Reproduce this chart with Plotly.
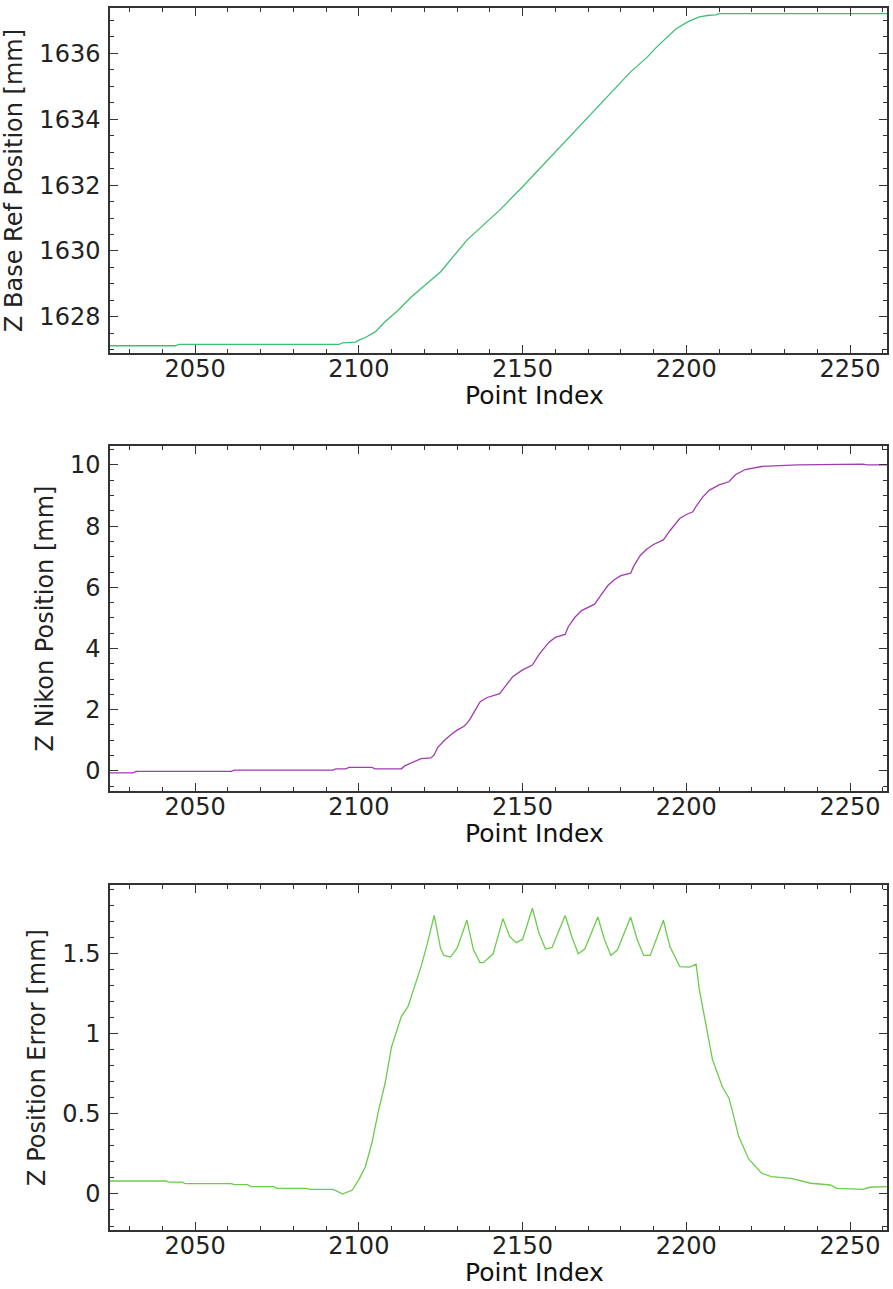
import plotly.graph_objects as go
from plotly.subplots import make_subplots

# Panel 1: Z Base Ref Position
ref_x = [2024, 2044, 2045, 2094, 2095, 2099, 2100, 2102, 2105, 2108, 2112, 2116, 2120,
         2125, 2133, 2143, 2150, 2163, 2173, 2183, 2188, 2191, 2197, 2201, 2204, 2207,
         2209, 2210, 2262]
ref_y = [1627.12, 1627.12, 1627.16, 1627.16, 1627.21, 1627.23, 1627.29, 1627.37, 1627.54,
         1627.85, 1628.20, 1628.60, 1628.94, 1629.37, 1630.33, 1631.24, 1631.95, 1633.32,
         1634.38, 1635.44, 1635.88, 1636.20, 1636.76, 1636.99, 1637.11, 1637.16, 1637.17,
         1637.21, 1637.21]

# Panel 2: Z Nikon Position
nik_x = [2024, 2031, 2032, 2061, 2062, 2092, 2093, 2096, 2097, 2104, 2105, 2113, 2114,
         2116, 2118, 2119, 2122, 2123, 2124, 2126, 2128, 2130, 2132, 2133, 2134, 2136,
         2137, 2139, 2143, 2145, 2147, 2150, 2153, 2155, 2158, 2160, 2163, 2164, 2166,
         2168, 2172, 2174, 2176, 2178, 2180, 2183, 2184, 2186, 2188, 2190, 2193, 2195,
         2198, 2200, 2202, 2203, 2205, 2207, 2210, 2213, 2215, 2218, 2223, 2234, 2248,
         2254, 2255, 2262]
nik_y = [-0.065, -0.065, -0.02, -0.02, 0.02, 0.02, 0.065, 0.065, 0.11, 0.11, 0.065, 0.065,
         0.16, 0.25, 0.35, 0.40, 0.42, 0.52, 0.75, 0.98, 1.17, 1.33, 1.45, 1.55, 1.70,
         2.10, 2.25, 2.39, 2.52, 2.80, 3.08, 3.30, 3.46, 3.80, 4.20, 4.36, 4.46, 4.72,
         5.02, 5.24, 5.45, 5.75, 6.05, 6.25, 6.38, 6.46, 6.70, 7.05, 7.25, 7.40, 7.55,
         7.85, 8.25, 8.38, 8.47, 8.65, 8.95, 9.17, 9.35, 9.45, 9.68, 9.85, 9.95, 10.0,
         10.03, 10.03, 10.0, 10.0]

# Panel 3: Z Position Error
err_x = [2024, 2041, 2042, 2046, 2047, 2061, 2062, 2066, 2067, 2074, 2075, 2084, 2085,
         2092, 2093, 2095, 2098, 2100, 2102, 2104, 2106, 2108, 2110, 2113, 2115, 2117,
         2119, 2121, 2123, 2125, 2126, 2128, 2130, 2133, 2135, 2137, 2138, 2141, 2144,
         2146, 2148, 2150, 2153, 2155, 2157, 2159, 2163, 2165, 2167, 2169, 2173, 2175,
         2177, 2179, 2183, 2185, 2187, 2189, 2193, 2195, 2198, 2201, 2203, 2204, 2206,
         2208, 2211, 2213, 2214, 2216, 2219, 2223, 2226, 2232, 2238, 2244, 2246, 2254,
         2256, 2262]
err_y = [0.081, 0.081, 0.074, 0.074, 0.065, 0.065, 0.058, 0.058, 0.046, 0.046, 0.035,
         0.035, 0.029, 0.029, 0.021, 0.0, 0.025, 0.09, 0.17, 0.32, 0.52, 0.69, 0.92,
         1.11, 1.17, 1.30, 1.42, 1.57, 1.74, 1.53, 1.49, 1.48, 1.535, 1.71, 1.525, 1.445,
         1.445, 1.50, 1.72, 1.61, 1.57, 1.59, 1.785, 1.63, 1.53, 1.54, 1.74, 1.61, 1.50,
         1.53, 1.73, 1.59, 1.49, 1.525, 1.73, 1.59, 1.49, 1.49, 1.71, 1.545, 1.42, 1.417,
         1.435, 1.275, 1.046, 0.84, 0.67, 0.60, 0.525, 0.36, 0.22, 0.13, 0.108, 0.098,
         0.067, 0.056, 0.035, 0.029, 0.042, 0.046]

x_range = [2024, 2261.3]
x_title = "Point Index"
y_titles = ["Z Base Ref Position [mm]", "Z Nikon Position [mm]", "Z Position Error [mm]"]
y_ranges = [[1626.9, 1637.38], [-0.66, 10.62], [-0.225, 1.93]]
y_dticks = [2, 2, 0.5]
y_minor = [0.5, 0.5, 0.1]
colors = ["#3dbf73", "#a03cb0", "#6ccc4c"]

fig = make_subplots(rows=3, cols=1)
series = [(ref_x, ref_y), (nik_x, nik_y), (err_x, err_y)]
for i, (xs, ys) in enumerate(series):
    fig.add_trace(go.Scatter(x=xs, y=ys, mode="lines",
                             line=dict(color=colors[i], width=1.3),
                             showlegend=False), row=i + 1, col=1)

W, H = 893, 1289
l, r, t, b = 110, 4, 8, 59
ph = H - t - b
pw = W - l - r
panels_px = [(8, 353), (446, 791), (885, 1230)]
font = "DejaVu Sans"
axcol = "#333333"
annotations = []
for i, (top, bot) in enumerate(panels_px):
    d0 = (H - b - bot) / ph
    d1 = (H - b - top) / ph
    xa = "xaxis" if i == 0 else f"xaxis{i+1}"
    ya = "yaxis" if i == 0 else f"yaxis{i+1}"
    fig.layout[ya].update(
        domain=[d0, d1], range=y_ranges[i], dtick=y_dticks[i], tick0=0,
        showline=True, linecolor=axcol, linewidth=1.5, mirror="allticks",
        ticks="inside", ticklen=8, tickwidth=1.3, tickcolor=axcol,
        minor=dict(ticks="inside", ticklen=4, dtick=y_minor[i], tickcolor=axcol, tickwidth=1),
        showgrid=False, zeroline=False,
        tickfont=dict(family=font, size=24, color="#222222"),
        ticklabelstandoff=3,
        title=dict(text=y_titles[i], font=dict(family=font, size=24, color="#222222"), standoff=10),
    )
    fig.layout[xa].update(
        range=x_range, dtick=50, tick0=2000,
        showline=True, linecolor=axcol, linewidth=1.5, mirror="allticks",
        ticks="inside", ticklen=8, tickwidth=1.3, tickcolor=axcol,
        minor=dict(ticks="inside", ticklen=4, dtick=10, tickcolor=axcol, tickwidth=1),
        showgrid=False, zeroline=False,
        tickfont=dict(family=font, size=24, color="#222222"),
        ticklabelstandoff=-7,
    )
    # title box: bottom edge placed 58 px below the axis line
    annotations.append(dict(
        text=x_title, xref="paper", yref="paper",
        x=(536 - l) / pw, y=(H - b - (bot + 58)) / ph,
        xanchor="center", yanchor="bottom", showarrow=False, borderpad=0,
        font=dict(family=font, size=25, color="#111111"),
    ))

fig.update_layout(
    width=W, height=H,
    margin=dict(l=l, r=r, t=t, b=b),
    paper_bgcolor="white", plot_bgcolor="white",
    annotations=annotations,
)
fig.write_html("out.html")
